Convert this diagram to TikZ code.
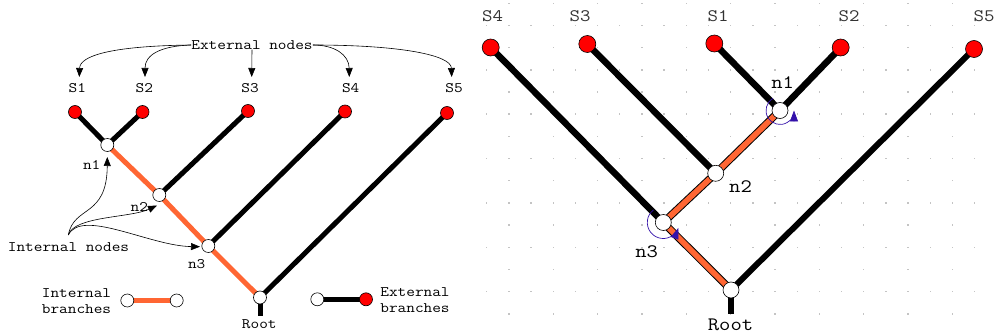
\documentclass[tikz,border=0pt]{standalone}
\usepackage{fontspec}
\setmonofont[FakeStretch=1.16]{Latin Modern Mono}
\usetikzlibrary{arrows.meta}
\definecolor{branchorange}{HTML}{FF6633}
\definecolor{leafred}{HTML}{FF0000}
\definecolor{rotblue}{HTML}{3311AA}
\definecolor{dotgray}{HTML}{C4C4C4}
\pgfdeclarelayer{grid}
\pgfdeclarelayer{bg}
\pgfsetlayers{grid,bg,main}

\begin{document}
\begin{tikzpicture}[x=1pt,y=-1pt,
  leaf/.style={circle,draw=black,fill=leafred,line width=0.6pt,minimum size=13pt,inner sep=0pt},
  inner/.style={circle,draw=black,fill=white,line width=0.6pt,minimum size=13pt,inner sep=0pt},
  bigleaf/.style={leaf,minimum size=17pt},
  biginner/.style={inner,minimum size=16pt},
  extbr/.style={line width=5pt,black},
  intbr/.style={line width=5pt,branchorange},
  lbl/.style={font=\ttfamily\fontsize{14.5}{16.5}\selectfont,inner sep=0pt},
  biglbl/.style={font=\ttfamily\fontsize{19}{21}\selectfont,inner sep=0pt},
  taxlbl/.style={font=\ttfamily\bfseries\fontsize{17.5}{19}\selectfont,text=black!80,inner sep=0pt},
  pointer/.style={line width=0.6pt,-{Triangle[length=9pt,width=7pt]}},
  rot/.style={rotblue,line width=0.7pt,-{Triangle[length=11pt,width=8pt]}}
]
\useasboundingbox (0,0) rectangle (994,334);
\begin{pgfonlayer}{grid}
  \fill[white] (0,0) rectangle (994,334);
\end{pgfonlayer}

% ---------------- left tree ----------------
\node[leaf] (ls1) at (75,112) {};
\node[leaf] (ls2) at (142.5,112) {};
\node[leaf] (ls3) at (248,111) {};
\node[leaf] (ls4) at (345,111.5) {};
\node[leaf] (ls5) at (447,113) {};
\node[inner] (ln1) at (107.3,145) {};
\node[inner] (ln2) at (159.3,195) {};
\node[inner] (ln3) at (208.3,246) {};
\node[inner] (lroot) at (260,297.5) {};
\coordinate (lstub) at (260,316);

\begin{pgfonlayer}{bg}
  \draw[extbr] (ls1.center) -- (ln1.center) -- (ls2.center);
  \draw[extbr] (ls3.center) -- (ln2.center);
  \draw[extbr] (ls4.center) -- (ln3.center);
  \draw[extbr] (ls5.center) -- (lroot.center);
  \draw[extbr] (lroot.center) -- (lstub);
  \draw[intbr] (ln1.center) -- (ln2.center) -- (ln3.center) -- (lroot.center);
\end{pgfonlayer}

\node[lbl] (t1) at (77.3,88.3) {S1};
\node[lbl] (t2) at (144.3,88.3) {S2};
\node[lbl] (t3) at (250,88.3) {S3};
\node[lbl] (t4) at (350.7,88.3) {S4};
\node[lbl] (t5) at (454,88.3) {S5};
\node[lbl] at (91.7,164.5) {n1};
\node[lbl] at (139.3,206.5) {n2};
\node[lbl] at (196.7,264.5) {n3};
\node[lbl] at (259.3,324) {Root};

\node[lbl] (ext) at (252,45) {External nodes};
\coordinate (e1) at (79.3,77);
\coordinate (e2) at (145,77);
\coordinate (e3) at (251.7,77);
\coordinate (e4) at (349.3,77);
\coordinate (e5) at (451.7,77);
\draw[pointer] (ext.west) .. controls (110,46) and (80,56) .. (e1);
\draw[pointer] (ext.west) .. controls (160,46) and (145,55) .. (e2);
\draw[pointer] (ext.south) -- (e3);
\draw[pointer] (ext.east) .. controls (335,45) and (349,55) .. (e4);
\draw[pointer] (ext.east) .. controls (400,45) and (451,55) .. (e5);

\node[lbl] (int) at (68.5,247.3) {Internal nodes};
\coordinate (istart) at (68.3,235);
\coordinate (i1) at (107.3,157);
\coordinate (i2) at (157,205.5);
\coordinate (i3) at (200,246.7);
\draw[pointer] (istart) .. controls (74,205) and (107,218) .. (i1);
\draw[pointer] (istart) .. controls (74,216) and (130,218) .. (i2);
\draw[pointer] (istart) .. controls (82,208) and (150,246) .. (i3);

% legend
\node[lbl,align=center] at (76.5,301) {Internal\\branches};
\node[inner] (li1) at (127.3,300.5) {};
\node[inner] (li2) at (176.7,300.5) {};
\begin{pgfonlayer}{bg}
  \draw[intbr] (li1.center) -- (li2.center);
\end{pgfonlayer}
\node[inner] (le1) at (317.3,299.3) {};
\node[leaf] (le2) at (366,299.3) {};
\begin{pgfonlayer}{bg}
  \draw[extbr] (le1.center) -- (le2.center);
\end{pgfonlayer}
\node[lbl,align=center] at (415,300) {External\\branches};

% ---------------- right tree ----------------
\begin{pgfonlayer}{grid}
  \foreach \j in {0,...,14} {
    \pgfmathtruncatemacro{\odd}{mod(\j,2)}
    \foreach \i in {0,...,22} {
      \pgfmathtruncatemacro{\oi}{mod(\i,2)}
      \ifnum\odd=1
        \fill[dotgray] ({486.7+22.18*\i-0.7},{3.3+22.18*\j-0.7}) rectangle ++(1.4,1.4);
      \else
        \ifnum\oi=1
          \fill[dotgray] ({486.7+22.18*\i-0.7},{3.3+22.18*\j-0.7}) rectangle ++(1.4,1.4);
        \fi
      \fi
    }
  }
\end{pgfonlayer}

\node[bigleaf] (rs4) at (490.7,47.5) {};
\node[bigleaf] (rs3) at (587.3,44) {};
\node[bigleaf] (rs1) at (714.3,43.5) {};
\node[bigleaf] (rs2) at (840.7,47.5) {};
\node[bigleaf] (rs5) at (974,49) {};
\node[biginner] (rn1) at (780,110.5) {};
\node[biginner] (rn2) at (715.7,173.3) {};
\node[biginner] (rn3) at (663.3,222.5) {};
\node[biginner] (rroot) at (731,290) {};
\coordinate (rstub) at (731,314);

\begin{pgfonlayer}{bg}
  \draw[line width=6.5pt] (rs4.center) -- (rn3.center);
  \draw[line width=6.5pt] (rs3.center) -- (rn2.center);
  \draw[line width=6.5pt] (rs1.center) -- (rn1.center) -- (rs2.center);
  \draw[line width=6pt] (rs5.center) -- (rroot.center);
  \draw[line width=6.5pt] (rroot.center) -- (rstub);
  \draw[line width=7.6pt,black] (rn1.center) -- (rn2.center) -- (rn3.center) -- (rroot.center);
  \draw[line width=5.6pt,branchorange] (rn1.center) -- (rn2.center) -- (rn3.center) -- (rroot.center);
\end{pgfonlayer}

\node[taxlbl] at (492.7,16.5) {S4};
\node[taxlbl] at (580,16.5) {S3};
\node[taxlbl] at (718,16.5) {S1};
\node[taxlbl] at (849,16.5) {S2};
\node[taxlbl] at (984,16.5) {S5};
\node[biglbl] at (782.7,83) {n1};
\node[biglbl] at (740.5,187) {n2};
\node[biglbl] at (646.7,251.5) {n3};
\node[biglbl] at (730.5,325) {Root};

% rotation marks around n1 and n3 (y axis points down, so angles run clockwise)
\draw[rot] ([shift={(-120:14)}]rn1.center) arc[start angle=-120,end angle=-360,radius=14];
\draw[rot] ([shift={(-128:16)}]rn3.center) arc[start angle=-128,end angle=-340,radius=16];
\end{tikzpicture}
\end{document}
